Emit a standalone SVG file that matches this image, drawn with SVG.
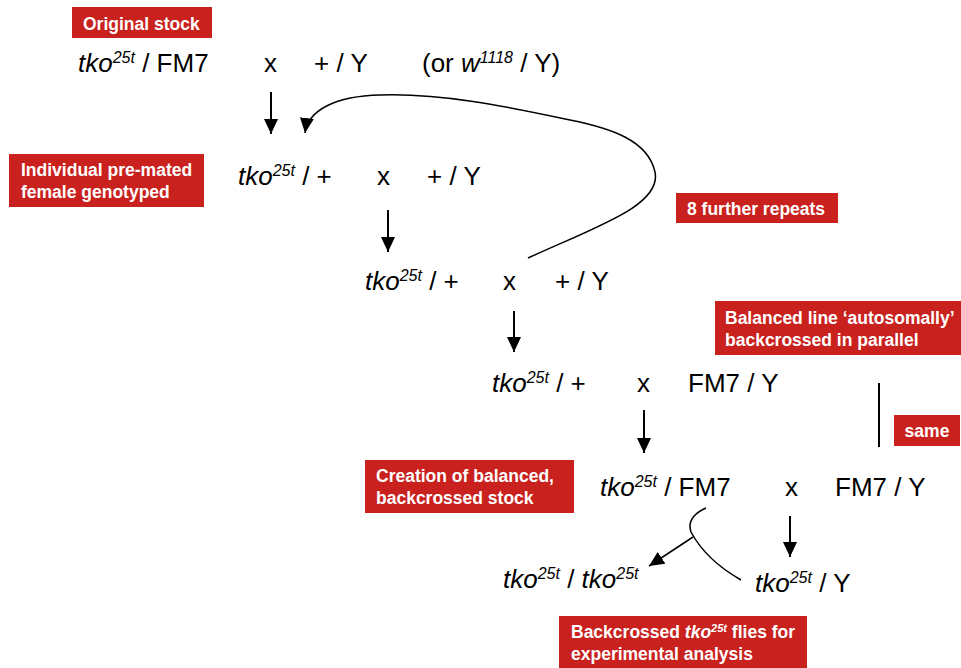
<svg xmlns="http://www.w3.org/2000/svg" width="961" height="668" viewBox="0 0 961 668">
<style>
.g{font-family:"Liberation Sans",Arial,sans-serif;font-size:26px;fill:#000}
.i{font-style:italic}
.s{font-size:16px}
.lb{fill:#c9211e}
.lt{font-family:"Liberation Sans",Arial,sans-serif;font-size:17.5px;font-weight:bold;fill:#fff}
.lts{font-size:11px}
.c{fill:none;stroke:#000;stroke-width:2}
.cv{fill:none;stroke:#000;stroke-width:1.5}
</style>
<defs>
<marker id="ah" markerUnits="userSpaceOnUse" markerWidth="16" markerHeight="15" refX="15" refY="7" orient="auto" viewBox="0 0 16 15">
<path d="M0,0 L15,7 L0,14 z" fill="#000"/>
</marker>
</defs>
<rect width="961" height="668" fill="#fff"/>

<g id="label-original">
<rect class="lb" x="72" y="7" width="140" height="31"/>
<text class="lt" x="83" y="30">Original stock</text>
</g>

<g id="row1">
<text class="g" x="78" y="72"><tspan class="i">tko</tspan><tspan class="s i" dy="-9">25t</tspan><tspan dy="9"> / FM7</tspan></text>
<text class="g" x="264" y="72">x</text>
<text class="g" x="314" y="72">+ / Y</text>
<text class="g" x="422" y="72">(or <tspan class="i">w</tspan><tspan class="s i" dy="-9">1118</tspan><tspan dy="9"> / Y)</tspan></text>
</g>

<g id="label-individual">
<rect class="lb" x="9" y="154" width="195" height="53"/>
<text class="lt" x="21" y="176">Individual pre-mated</text>
<text class="lt" x="21" y="198">female genotyped</text>
</g>

<g id="row2">
<text class="g" x="238" y="185"><tspan class="i">tko</tspan><tspan class="s i" dy="-9">25t</tspan><tspan dy="9"> / +</tspan></text>
<text class="g" x="377" y="185">x</text>
<text class="g" x="427" y="185">+ / Y</text>
</g>

<g id="label-repeats">
<rect class="lb" x="676" y="193" width="162" height="30"/>
<text class="lt" x="687" y="215">8 further repeats</text>
</g>

<g id="row3">
<text class="g" x="365" y="290"><tspan class="i">tko</tspan><tspan class="s i" dy="-9">25t</tspan><tspan dy="9"> / +</tspan></text>
<text class="g" x="503" y="290">x</text>
<text class="g" x="555" y="290">+ / Y</text>
</g>

<g id="label-balanced">
<rect class="lb" x="715" y="301" width="246" height="54"/>
<text class="lt" x="725" y="324">Balanced line ‘autosomally’</text>
<text class="lt" x="725" y="346">backcrossed in parallel</text>
</g>

<g id="row4">
<text class="g" x="492" y="392"><tspan class="i">tko</tspan><tspan class="s i" dy="-9">25t</tspan><tspan dy="9"> / +</tspan></text>
<text class="g" x="637" y="392">x</text>
<text class="g" x="688" y="392">FM7 / Y</text>
</g>

<g id="label-same">
<rect class="lb" x="894" y="415" width="66" height="31"/>
<text class="lt" x="927" y="437" text-anchor="middle">same</text>
</g>

<g id="label-creation">
<rect class="lb" x="365" y="460" width="209" height="53"/>
<text class="lt" x="376" y="482">Creation of balanced,</text>
<text class="lt" x="376" y="504">backcrossed stock</text>
</g>

<g id="row5">
<text class="g" x="600" y="496"><tspan class="i">tko</tspan><tspan class="s i" dy="-9">25t</tspan><tspan dy="9"> / FM7</tspan></text>
<text class="g" x="785" y="496">x</text>
<text class="g" x="835" y="496">FM7 / Y</text>
</g>

<g id="row6">
<text class="g" x="503" y="588"><tspan class="i">tko</tspan><tspan class="s i" dy="-9">25t</tspan><tspan dy="9"> / </tspan><tspan class="i">tko</tspan><tspan class="s i" dy="-9">25t</tspan></text>
<text class="g" x="755" y="592"><tspan class="i">tko</tspan><tspan class="s i" dy="-9">25t</tspan><tspan dy="9"> / Y</tspan></text>
</g>

<g id="label-backcrossed">
<rect class="lb" x="559" y="616" width="248" height="52"/>
<text class="lt" x="571" y="638">Backcrossed <tspan font-style="italic">tko</tspan><tspan class="lts" dy="-6" font-style="italic">25t</tspan><tspan dy="6"> flies for</tspan></text>
<text class="lt" x="571" y="660">experimental analysis</text>
</g>

<g id="connectors">
<line class="c" x1="271" y1="92" x2="271" y2="134" marker-end="url(#ah)"/>
<path class="cv" d="M528,258 C598,226 662,205 655,172 C648,140 610,128 570,120 C505,106 440,93 380,95 C336,96 308,110 305,133" marker-end="url(#ah)"/>
<line class="c" x1="388" y1="210" x2="388" y2="252" marker-end="url(#ah)"/>
<line class="c" x1="514" y1="311" x2="514" y2="352" marker-end="url(#ah)"/>
<line class="c" x1="879" y1="383" x2="879" y2="447" stroke-width="2.5"/>
<line class="c" x1="644" y1="410" x2="644" y2="453" marker-end="url(#ah)"/>
<line class="c" x1="790" y1="516" x2="790" y2="557" marker-end="url(#ah)"/>
<path class="cv" d="M706,508 Q686,517 691,532 Q706,560 741,580"/>
<line class="cv" x1="693" y1="537" x2="649" y2="566" marker-end="url(#ah)"/>
</g>
</svg>
